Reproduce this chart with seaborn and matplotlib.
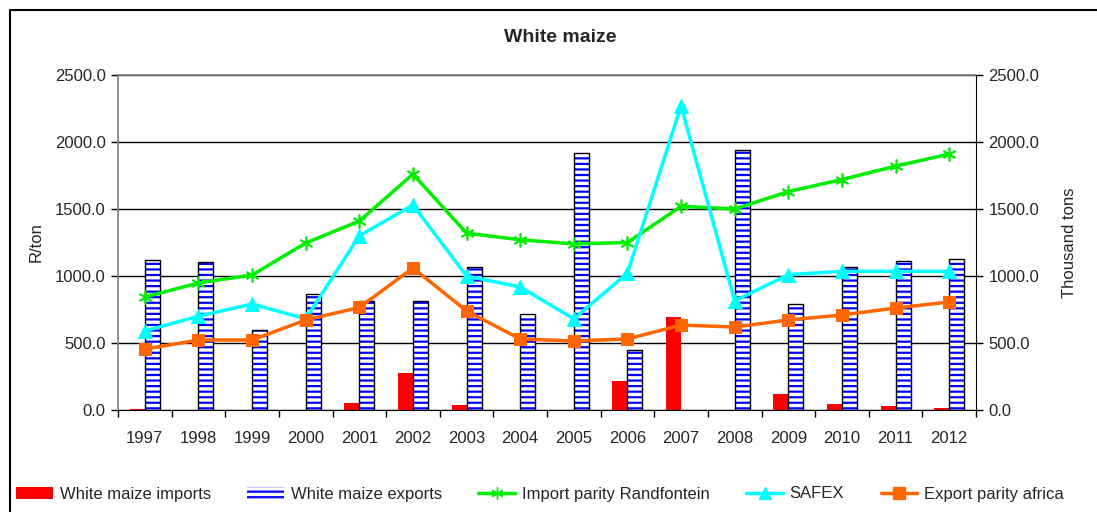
import matplotlib
matplotlib.use("Agg")
import matplotlib.pyplot as plt
import seaborn as sns
import pandas as pd
import numpy as np
from matplotlib.patches import Rectangle, Patch
from matplotlib.lines import Line2D
from matplotlib.ticker import FormatStrFormatter, FixedLocator

years = ["1997", "1998", "1999", "2000", "2001", "2002", "2003", "2004",
         "2005", "2006", "2007", "2008", "2009", "2010", "2011", "2012"]
imports = [5, 0, 0, 0, 52, 276, 37, 0, 0, 216, 694, 0, 119, 45, 30, 15]
exports = [1119, 1104, 597, 866, 813, 813, 1070, 716, 1918, 448, 0, 1940, 791, 1067, 1112, 1127]
import_parity = [843, 948, 1007, 1246, 1410, 1760, 1320, 1270, 1240, 1250, 1520, 1500, 1630, 1720, 1820, 1910]
safex = [590, 700, 791, 680, 1300, 1530, 1000, 918, 680, 1022, 2270, 815, 1010, 1035, 1035, 1035]
export_parity = [455, 522, 522, 672, 765, 1060, 739, 530, 515, 530, 634, 619, 672, 709, 761, 806]

sns.set_style("white")
plt.rcParams['font.family'] = ['Liberation Sans', 'DejaVu Sans']
plt.rcParams['hatch.linewidth'] = 1.6

fig = plt.figure(figsize=(10.97, 5.12), dpi=100)
ax = fig.add_axes([118/1097, 1-410/512, (976-118)/1097, (410-75)/512])

bars = pd.DataFrame({
    "year": years * 2,
    "value": imports + exports,
    "series": ["White maize imports"] * 16 + ["White maize exports"] * 16,
})
sns.barplot(data=bars, x="year", y="value", hue="series", order=years,
            hue_order=["White maize imports", "White maize exports"],
            palette=["#ff0000", "white"], width=0.56, gap=0, dodge=True,
            saturation=1, errorbar=None, legend=False, ax=ax, zorder=2)

# style export bars: white fill, blue horizontal stripes, black outline
for p in ax.containers[1]:
    p.set_facecolor("white")
    p.set_edgecolor("#0000ff")
    p.set_hatch("---")
    p.set_linewidth(0)
    if p.get_height() > 0:
        ax.add_patch(Rectangle((p.get_x(), p.get_y()), p.get_width(), p.get_height(),
                               fill=False, edgecolor="black", linewidth=1.0, zorder=3))
for p in ax.containers[0]:
    p.set_linewidth(0)

lines = pd.DataFrame({"year": years, "ip": import_parity, "sf": safex, "ep": export_parity})
sns.lineplot(data=lines, x="year", y="ip", ax=ax, color="#00ee00", lw=2.5,
             marker=(6, 2, 0), markersize=10, markeredgecolor="#00ee00",
             markeredgewidth=1.2, zorder=5, sort=False)
sns.lineplot(data=lines, x="year", y="sf", ax=ax, color="#00ffff", lw=2.5,
             marker="^", markersize=10, markeredgecolor="#00ffff", zorder=5, sort=False)
sns.lineplot(data=lines, x="year", y="ep", ax=ax, color="#ff6600", lw=2.5,
             marker="s", markersize=9, markeredgecolor="#ff6600", zorder=6, sort=False)

ax.set_xlim(-0.5, 15.5)
ax.set_ylim(0, 2500)
ax.set_yticks(np.arange(0, 2501, 500))
ax.yaxis.set_major_formatter(FormatStrFormatter("%.1f"))
ax.grid(axis="y", color="black", lw=1, zorder=0)
ax.set_axisbelow(True)
ax.set_xlabel("")
ax.set_ylabel("R/ton", fontsize=12, labelpad=8)
ax.tick_params(axis="y", which="major", direction="out", length=5, width=1,
               color="black", labelsize=12, left=True, pad=4)

# x ticks: marks between categories, labels at centers
ax.xaxis.set_major_locator(FixedLocator(np.arange(-0.5, 15.6, 1)))
ax.xaxis.set_minor_locator(FixedLocator(np.arange(0, 16, 1)))
ax.set_xticklabels([""] * 17)
ax.set_xticklabels(years, minor=True)
ax.tick_params(axis="x", which="major", direction="out", length=5, width=1,
               color="black", bottom=True)
ax.tick_params(axis="x", which="minor", length=0, labelsize=12, pad=15)

for s in ["left", "top"]:
    ax.spines[s].set_color("#808080")
    ax.spines[s].set_linewidth(1.2)
ax.spines["bottom"].set_color("black")
ax.spines["right"].set_color("black")

ax2 = ax.twinx()
ax2.set_ylim(0, 2500)
ax2.set_yticks(np.arange(0, 2501, 500))
ax2.yaxis.set_major_formatter(FormatStrFormatter("%.1f"))
ax2.tick_params(axis="y", direction="out", length=5, width=1, color="black",
                labelsize=12, pad=4)
ax2.set_ylabel("Thousand tons", fontsize=12, labelpad=16)
for s in ax2.spines.values():
    s.set_visible(False)

fig.text(560/1097, 1-38/512, "White maize", ha="center", va="center",
         fontsize=14, fontweight="bold")

handles = [
    Patch(facecolor="#ff0000", edgecolor="none"),
    Patch(facecolor="white", edgecolor="#0000ff", hatch="---", linewidth=0),
    Line2D([], [], color="#00ee00", lw=2.5, marker=(6, 2, 0), markersize=9,
           markeredgecolor="#00ee00"),
    Line2D([], [], color="#00ffff", lw=2.5, marker="^", markersize=9),
    Line2D([], [], color="#ff6600", lw=2.5, marker="s", markersize=8),
]
labels = ["White maize imports", "White maize exports", "Import parity Randfontein",
          "SAFEX", "Export parity africa"]
leg = fig.legend(handles, labels, loc="center", bbox_to_anchor=(540/1097, 1-494/512),
                 ncol=5, frameon=False, fontsize=12, handlelength=2.2, handletextpad=0.4,
                 columnspacing=2.2)
leg.legend_handles[1].set_edgecolor("#0000ff")

# chart frame
fig.add_artist(Line2D([10/1097, 1], [1-10/512, 1-10/512], color="black", lw=1.5,
                      transform=fig.transFigure))
fig.add_artist(Line2D([10/1097, 10/1097], [0, 1-10/512], color="black", lw=1.5,
                      transform=fig.transFigure))

fig.savefig("out.png", dpi=100)
